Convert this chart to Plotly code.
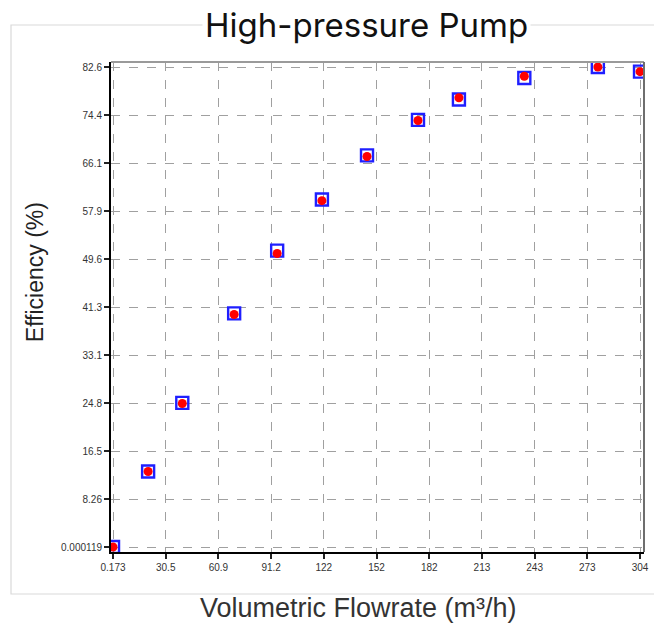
import plotly.graph_objects as go

# Pump test data: volumetric flowrate (m3/h) vs efficiency (%)
flow = [0.173, 20.4, 40.1, 70.0, 94.8, 120.6, 146.6, 176.0, 199.6, 237.3, 279.7, 304.0]
eff_measured = [0.000119, 13.0, 24.8, 40.2, 51.0, 59.8, 67.4, 73.5, 77.0, 80.7, 82.6, 81.8]
eff_model = [0.000119, 13.0, 24.7, 40.0, 50.5, 59.6, 67.2, 73.4, 77.3, 81.0, 82.6, 81.8]

x_tick_vals = [0.173, 30.556, 60.938, 91.32, 121.70, 152.09, 182.47, 212.85, 243.23, 273.62, 304.0]
x_tick_text = ["0.173", "30.5", "60.9", "91.2", "122", "152", "182", "213", "243", "273", "304"]
y_tick_vals = [0.000119, 8.26, 16.52, 24.78, 33.04, 41.30, 49.56, 57.82, 66.08, 74.34, 82.6]
y_tick_text = ["0.000119", "8.26", "16.5", "24.8", "33.1", "41.3", "49.6", "57.9", "66.1", "74.4", "82.6"]

fig = go.Figure()
fig.add_trace(go.Scatter(
    x=flow, y=eff_measured, mode="markers", name="Measured",
    marker=dict(symbol="square-open", size=12, color="#1f1fff", line=dict(width=2.4, color="#1f1fff")),
))
fig.add_trace(go.Scatter(
    x=flow, y=eff_model, mode="markers", name="Model",
    marker=dict(symbol="circle", size=9, color="#ff0000", line=dict(width=0)),
))

tick_font = dict(family="Liberation Sans, Arial, sans-serif", size=10, color="#333333")
axis_common = dict(
    showgrid=True, gridcolor="#a0a0a0", griddash="dash", gridwidth=1.2,
    zeroline=False, showline=True, linecolor="#000000", linewidth=2,
    ticks="outside", ticklen=5, tickwidth=1.5, tickcolor="#222222",
    tickfont=tick_font, mirror=False, automargin=False,
)

fig.update_layout(
    width=654, height=623,
    margin=dict(l=111, r=10, t=62, b=71),
    paper_bgcolor="white", plot_bgcolor="white",
    showlegend=False,
    xaxis=dict(range=[-1.0, 306.3], tickvals=x_tick_vals, ticktext=x_tick_text, **axis_common),
    yaxis=dict(range=[-0.86, 83.46], tickvals=y_tick_vals, ticktext=y_tick_text, **axis_common),
)

# outer light frame around the chart panel
fig.add_shape(type="rect", xref="paper", yref="paper",
              x0=-0.1876, x1=1.05, y0=-0.0857, y1=1.0755,
              line=dict(color="#d9d9d9", width=1.2), layer="below")
# gray top and right borders of the plotting area
fig.add_shape(type="line", xref="paper", yref="paper", x0=0, x1=1, y0=1, y1=1,
              line=dict(color="#9a9a9a", width=2))
fig.add_shape(type="line", xref="paper", yref="paper", x0=1, x1=1, y0=0, y1=1,
              line=dict(color="#6e6e6e", width=2))

fig.add_annotation(text="High-pressure Pump", xref="paper", yref="paper",
                   x=0.4803, y=1.0755, xanchor="center", yanchor="middle", showarrow=False,
                   bgcolor="white", borderpad=2,
                   font=dict(family="Inter, Liberation Sans, sans-serif", size=33, color="#111111"))
fig.add_annotation(text="Volumetric Flowrate (m³/h)", xref="paper", yref="paper",
                   x=0.465, y=-0.1143, xanchor="center", yanchor="middle", showarrow=False,
                   font=dict(family="Liberation Sans, Arial, sans-serif", size=27, color="#333333"))
fig.add_annotation(text="Efficiency (%)", xref="paper", yref="paper",
                   x=-0.1426, y=0.571, xanchor="center", yanchor="middle", showarrow=False,
                   textangle=-90,
                   font=dict(family="Liberation Sans, Arial, sans-serif", size=23, color="#222222"))

fig.write_html("out.html")
